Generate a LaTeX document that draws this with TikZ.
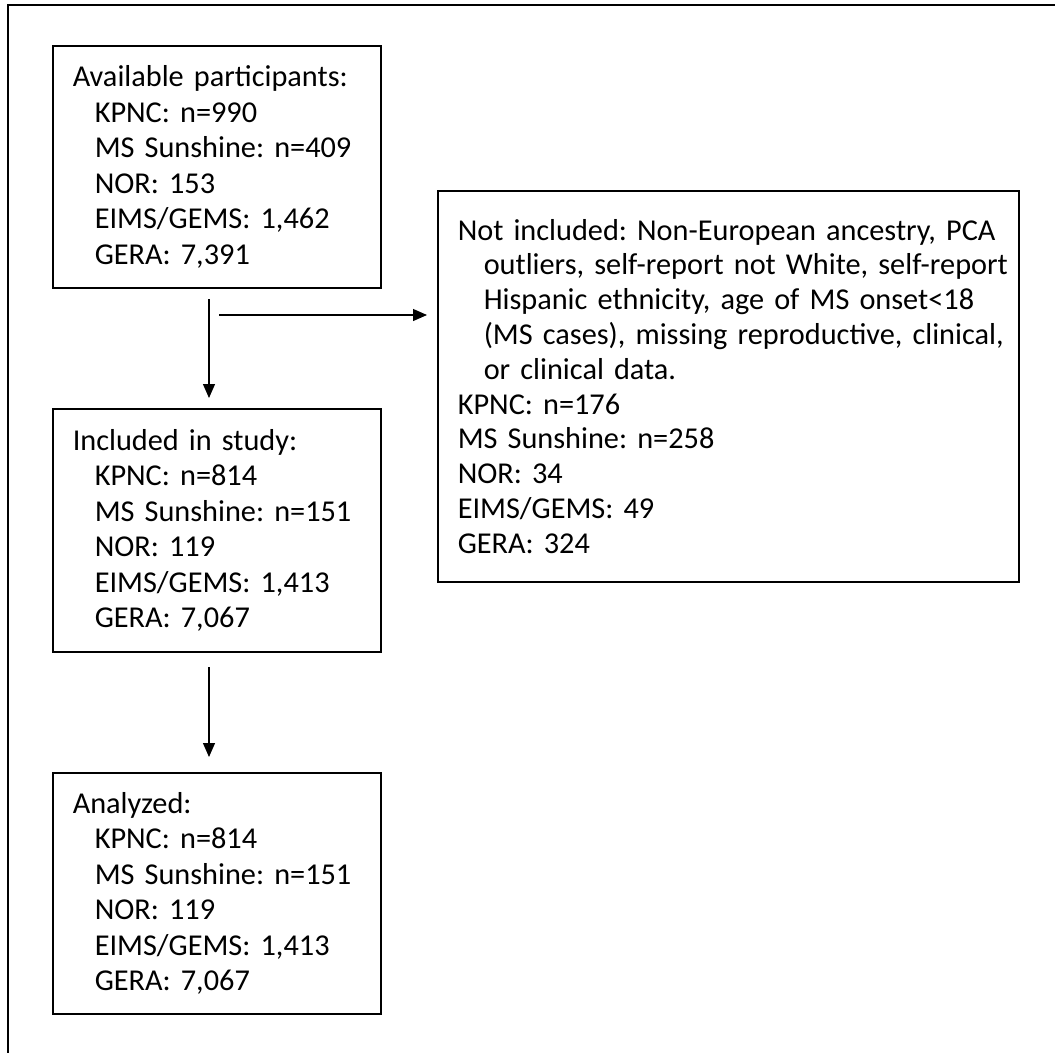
\documentclass[tikz,border=0pt]{standalone}
\usepackage{fontspec}
\setmainfont{Carlito}
\usetikzlibrary{arrows.meta,positioning}

\tikzset{
  stagebox/.style={draw,line width=1.5pt,anchor=north west,align=left,
    inner xsep=20pt,inner ysep=0pt,
    font=\fontsize{30.3}{35.5}\selectfont},
  flowarrow/.style={line width=1.2pt,-{Triangle[length=14pt,width=12pt]}}
}
\newcommand{\ind}{\hspace*{22pt}}
\newcommand{\hang}[1]{\mbox{\hspace*{26pt}#1}}

\begin{document}
\frenchspacing
\begin{tikzpicture}[x=1pt,y=-1pt]
       \useasboundingbox (0,0) rectangle (1055,1053);
       % Outer frame (open at right and bottom)
       \draw [line width=1.5pt] (1055,5) -- (8,5) -- (8,1053);
       % Stage boxes
       \node (avail) [stagebox,text width=288pt,minimum height=242pt] at (52,45)
         {Available participants:\\
          \ind KPNC: n=990\\
          \ind MS Sunshine: n=409\\
          \ind NOR: 153\\
          \ind EIMS/GEMS: 1,462\\
          \ind GERA: 7,391};
       \node (incl) [stagebox,text width=288pt,minimum height=243pt] at (52,408)
         {Included in study:\\
          \ind KPNC: n=814\\
          \ind MS Sunshine: n=151\\
          \ind NOR: 119\\
          \ind EIMS/GEMS: 1,413\\
          \ind GERA: 7,067};
       \node (anal) [stagebox,text width=288pt,minimum height=241pt] at (52,772)
         {Analyzed:\\
          \ind KPNC: n=814\\
          \ind MS Sunshine: n=151\\
          \ind NOR: 119\\
          \ind EIMS/GEMS: 1,413\\
          \ind GERA: 7,067};
       \node (excl) [stagebox,text width=541pt,minimum height=391pt,
                     font=\fontsize{30.3}{34.8}\selectfont] at (437,190)
         {\mbox{Not included: Non-European ancestry, PCA}\\
          \hang{outliers, self-report not White, self-report}\\
          \hang{Hispanic ethnicity, age of MS onset<18}\\
          \hang{(MS cases), missing reproductive, clinical,}\\
          \hang{or clinical data.}\\
          KPNC: n=176\\
          MS Sunshine: n=258\\
          NOR: 34\\
          EIMS/GEMS: 49\\
          GERA: 324};
       % Arrows
       \coordinate (v_1) at (209,299);
       \coordinate (h_1) at (219,315);
       \coordinate (v_2) at (209,667);
       \draw [flowarrow,shorten >=10pt] (v_1) -- (v_1 |- incl.north);
       \draw [flowarrow,shorten >=10pt] (h_1) -- (h_1 -| excl.west);
       \draw [flowarrow,shorten >=15pt] (v_2) -- (v_2 |- anal.north);
\end{tikzpicture}
\end{document}
